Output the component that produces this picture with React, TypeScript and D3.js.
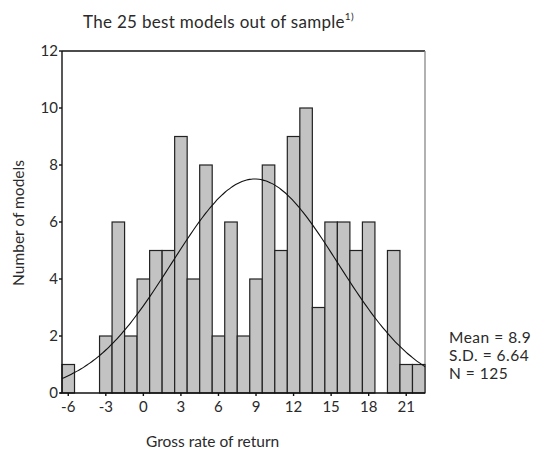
import * as d3 from 'd3'

// bin centres (width 1) and counts
const binCenters = [-6, -5, -4, -3, -2, -1, 0, 1, 2, 3, 4, 5, 6, 7, 8, 9, 10, 11, 12, 13, 14, 15, 16, 17, 18, 19, 20, 21, 22]
const binCounts = [1, 0, 0, 2, 6, 2, 4, 5, 5, 9, 4, 8, 2, 6, 2, 4, 8, 5, 9, 10, 3, 6, 6, 5, 6, 0, 5, 1, 1]
const xTicks = [-6, -3, 0, 3, 6, 9, 12, 15, 18, 21]
const yTicks = [0, 2, 4, 6, 8, 10, 12]
const MEAN = 8.9
const SD = 6.64
const N = 125

const FONT = 'Lato, "Open Sans", sans-serif'

export default function App() {
  const width = 542
  const height = 453
  const plot = { left: 62, right: 425, top: 51, bottom: 393 }

  const x = d3.scaleLinear().domain([-6.5, 22.5]).range([plot.left, plot.right])
  const y = d3.scaleLinear().domain([0, 12]).range([plot.bottom, plot.top])

  const bars = binCenters.map((c, i) => ({ c, n: binCounts[i] })).filter((d) => d.n > 0)

  // normal curve scaled to counts (bin width 1)
  const curveXs = d3.range(-6.5, 22.5001, 0.25)
  const normal = (v: number) =>
    (N / (SD * Math.sqrt(2 * Math.PI))) * Math.exp(-0.5 * ((v - MEAN) / SD) ** 2)
  const line = d3
    .line<number>()
    .x((v) => x(v))
    .y((v) => y(normal(v)))
    .curve(d3.curveBasis)

  return (
    <svg
      width={width}
      height={height}
      style={{ position: 'absolute', left: 0, top: 0, background: '#fff' }}
      fontFamily={FONT}
    >
      <text x={83} y={28} fontSize={17} fill="#2a2a2a" letterSpacing={0.3}>
        The 25 best models out of sample
        <tspan fontSize={10} dy={-8}>1)</tspan>
      </text>

      {/* frame */}
      <line x1={plot.left} x2={plot.right} y1={plot.top} y2={plot.top} stroke="#111" strokeWidth={1.3} />
      <line x1={plot.right} x2={plot.right} y1={plot.top} y2={plot.bottom} stroke="#888" strokeWidth={1.3} />

      {/* bars */}
      {bars.map((d) => (
        <rect
          key={d.c}
          x={x(d.c - 0.5)}
          y={y(d.n)}
          width={x(d.c + 0.5) - x(d.c - 0.5)}
          height={y(0) - y(d.n)}
          fill="#c3c3c3"
          stroke="#222"
          strokeWidth={1.2}
        />
      ))}

      {/* normal curve */}
      <path d={line(curveXs) ?? ''} fill="none" stroke="#111" strokeWidth={1.1} />

      {/* axes */}
      <line x1={plot.left} x2={plot.left} y1={plot.top} y2={plot.bottom} stroke="#111" strokeWidth={1.4} />
      <line x1={plot.left - 2} x2={plot.right} y1={plot.bottom} y2={plot.bottom} stroke="#111" strokeWidth={1.4} />
      {yTicks.map((t) => (
        <g key={t}>
          <line x1={plot.left - 3} x2={plot.left} y1={y(t)} y2={y(t)} stroke="#111" strokeWidth={1.4} />
          <text x={plot.left - 4} y={y(t)} dy="0.36em" textAnchor="end" fontSize={15} fill="#2a2a2a">
            {t}
          </text>
        </g>
      ))}
      {xTicks.map((t) => (
        <g key={t}>
          <line x1={x(t)} x2={x(t)} y1={plot.bottom} y2={plot.bottom + 3} stroke="#111" strokeWidth={1.4} />
          <text x={x(t)} y={plot.bottom + 19} textAnchor="middle" fontSize={15} fill="#2a2a2a">
            {t}
          </text>
        </g>
      ))}

      <text
        transform={`translate(24,${(plot.top + plot.bottom) / 2 + 1}) rotate(-90)`}
        textAnchor="middle"
        fontSize={15.5}
        fill="#2a2a2a"
      >
        Number of models
      </text>
      <text x={146} y={447} fontSize={15.5} fill="#2a2a2a">
        Gross rate of return
      </text>

      {/* stats */}
      <text x={449} y={343} fontSize={15.5} fill="#2a2a2a" letterSpacing={0.5}>Mean = {MEAN}</text>
      <text x={449} y={361} fontSize={15.5} fill="#2a2a2a" letterSpacing={0.5}>S.D. = {SD}</text>
      <text x={449} y={379} fontSize={15.5} fill="#2a2a2a" letterSpacing={0.5}>N = {N}</text>
    </svg>
  )
}
